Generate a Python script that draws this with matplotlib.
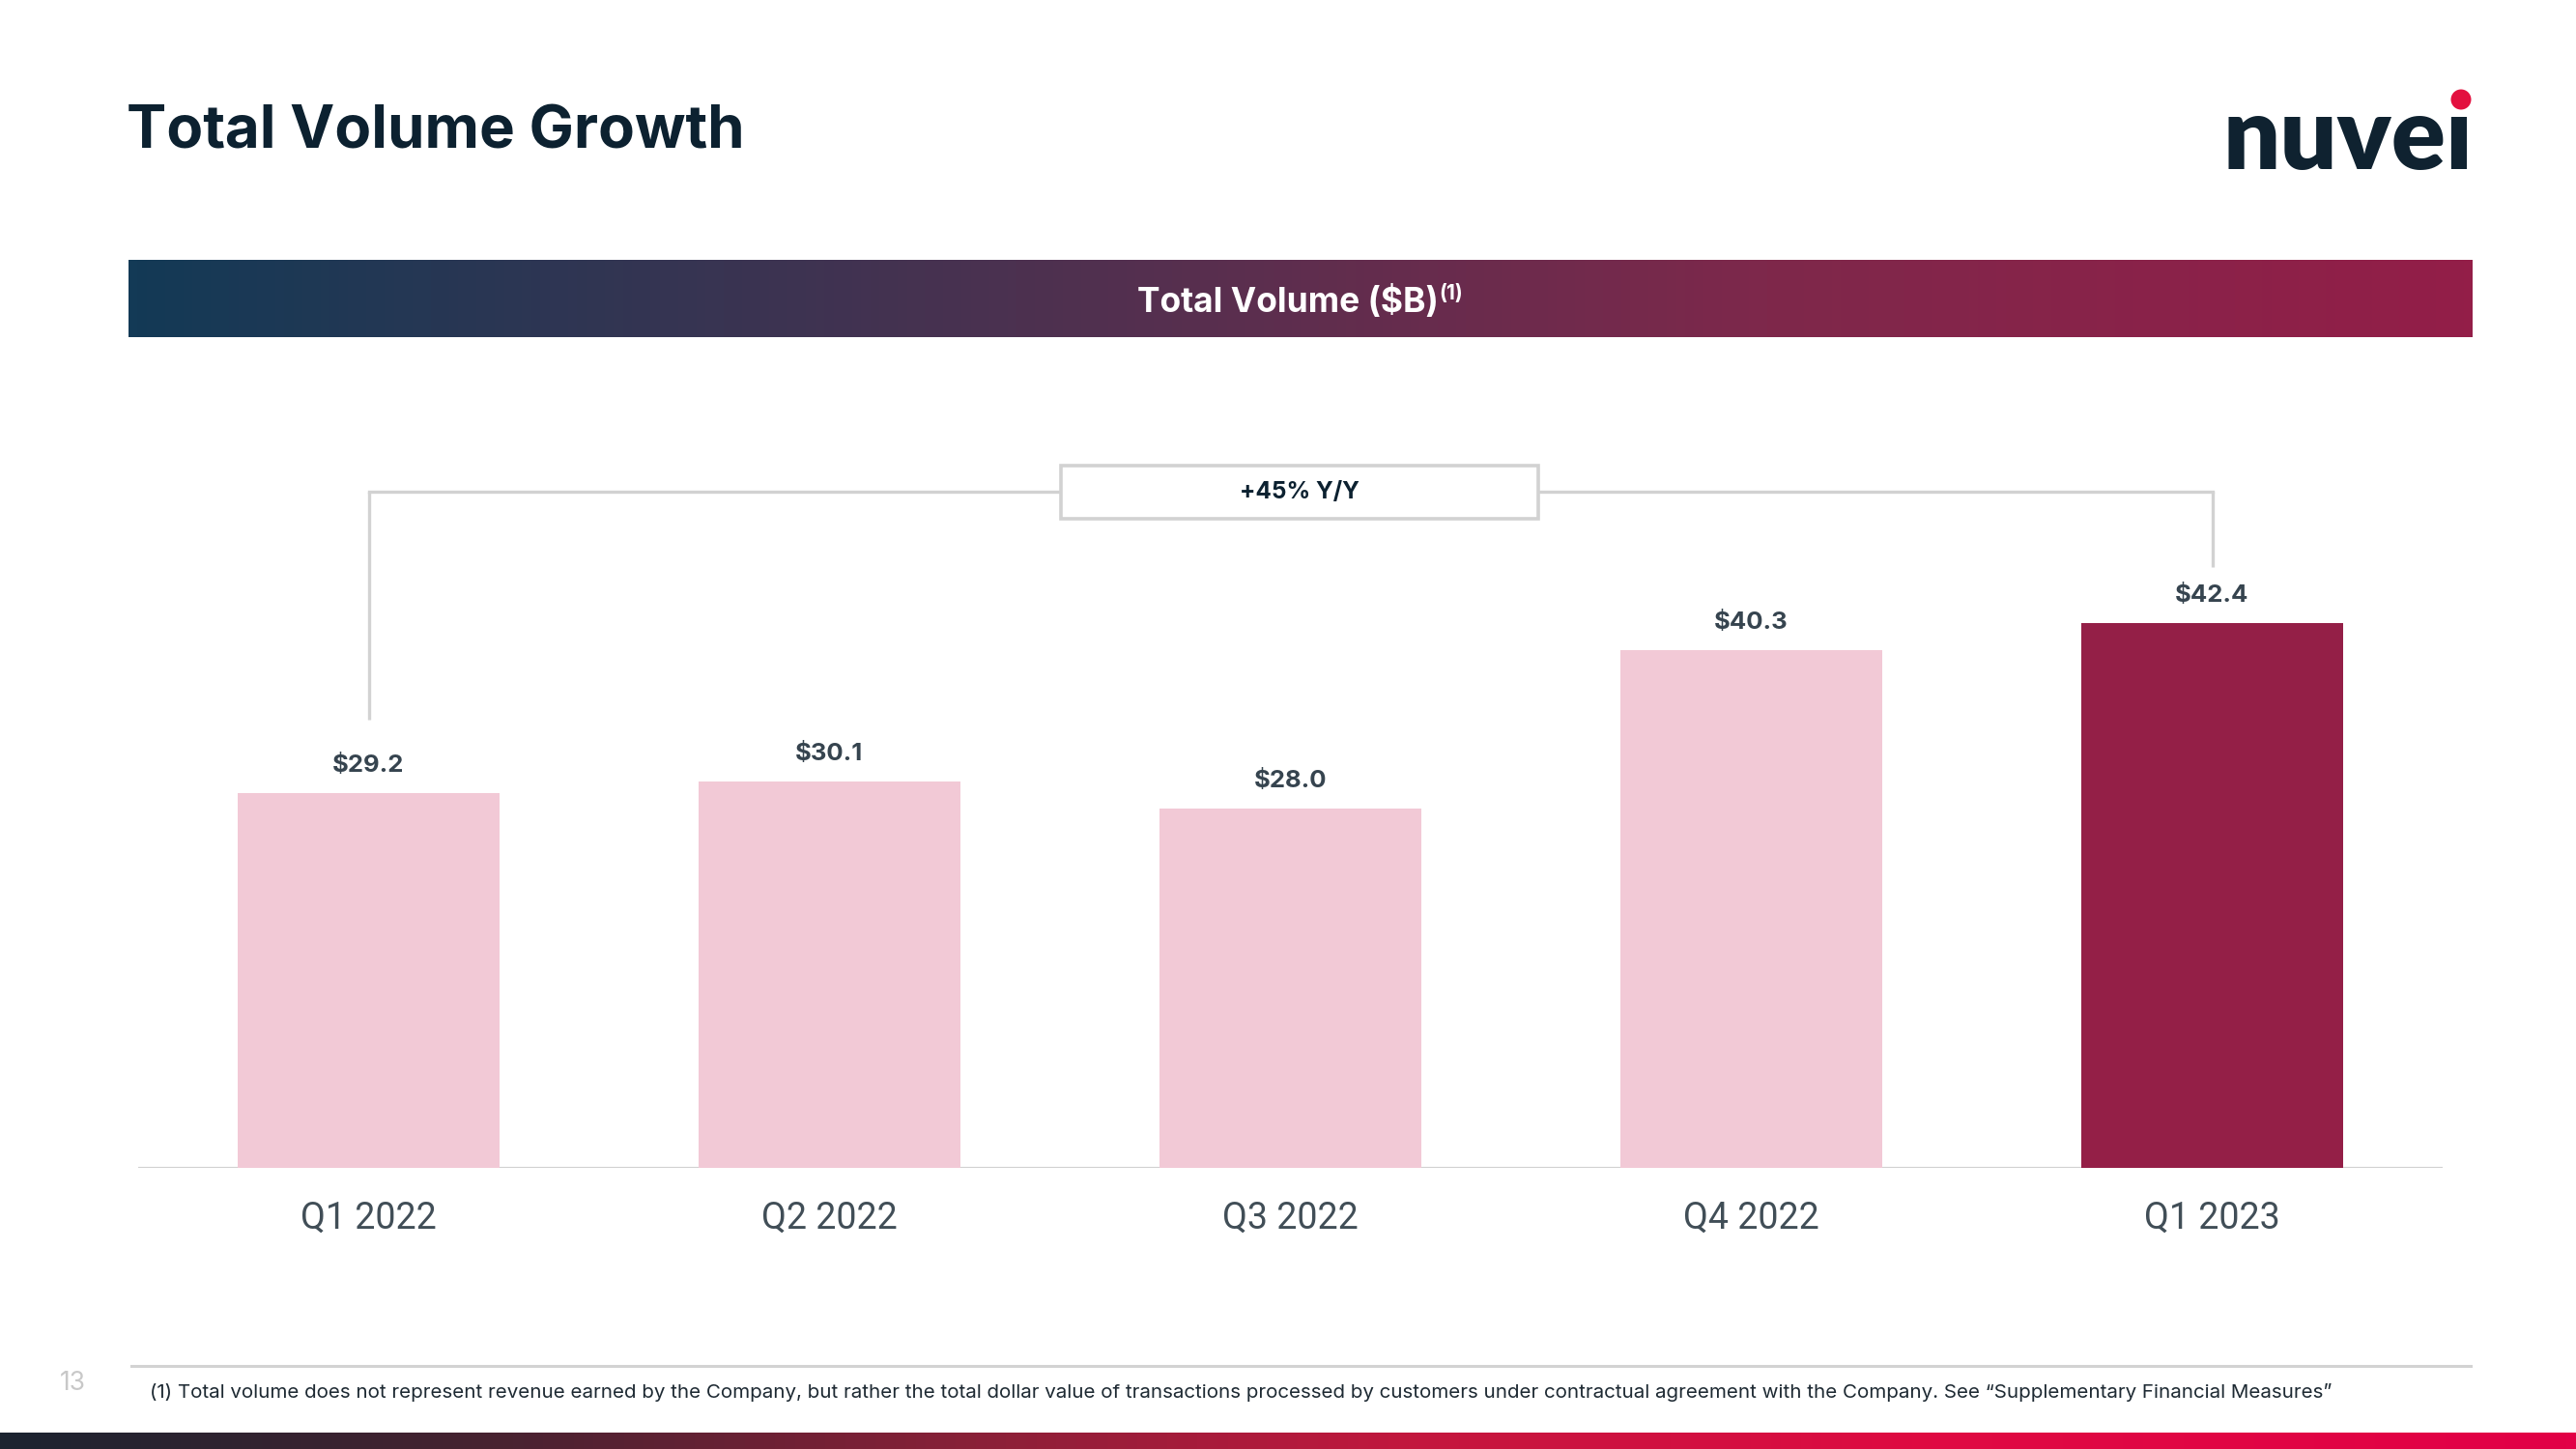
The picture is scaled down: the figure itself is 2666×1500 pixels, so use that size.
import matplotlib
matplotlib.use("Agg")
import matplotlib.pyplot as plt
import numpy as np
from matplotlib.colors import LinearSegmentedColormap
from matplotlib.patches import Rectangle, Circle

# ---- data ----
quarters = ["Q1 2022", "Q2 2022", "Q3 2022", "Q4 2022", "Q1 2023"]
volumes = [29.2, 30.1, 28.0, 40.3, 42.4]
value_labels = ["$29.2", "$30.1", "$28.0", "$40.3", "$42.4"]
growth_label = "+45% Y/Y"
title = "Total Volume Growth"
banner_title = "Total Volume ($B)"
banner_sup = "(1)"
footnote = ("(1) Total volume does not represent revenue earned by the Company, but rather the total dollar "
            "value of transactions processed by customers under contractual agreement with the Company. "
            "See \u201cSupplementary Financial Measures\u201d")
page_number = "13"

# ---- style ----
W, H = 2666, 1500
DPI = 100
PINK = "#f2c9d6"
CRIMSON = "#941f47"
DARK = "#0c2130"
LABEL = "#36444f"
GREY_LINE = "#d2d2d2"
SANS = ["Inter", "Lato", "DejaVu Sans"]
bar_colors = [PINK, PINK, PINK, PINK, CRIMSON]

fig = plt.figure(figsize=(W / DPI, H / DPI), dpi=DPI)
fig.patch.set_facecolor("white")

def fx(px):
    return px / W

def fy(py):
    return 1 - py / H

# Title
fig.text(fx(131), fy(153), title, fontsize=44.5, fontweight="bold", family=SANS,
         color=DARK, ha="left", va="baseline")

# Logo
fig.text(fx(2559), fy(175), "nuve\u0131", fontsize=75, fontweight="heavy",
         family=["Lato", "DejaVu Sans"], color="#0f2230", ha="right", va="baseline")
fig.patches.append(Circle((2547 / DPI, (H - 103) / DPI), 10.5 / DPI, transform=fig.dpi_scale_trans,
                          facecolor="#e3103f", edgecolor="none"))

# Banner with gradient
ban = fig.add_axes([fx(133), fy(349), fx(2559 - 133), (349 - 269) / H])
cmap_ban = LinearSegmentedColormap.from_list(
    "ban", [(0, "#133a56"), (0.38, "#4c3150"), (0.7, "#7e284b"), (1.0, "#931e48")])
ban.imshow(np.linspace(0, 1, 512)[None, :], aspect="auto", cmap=cmap_ban, extent=[0, 1, 0, 1])
ban.set_axis_off()
bt = fig.text(fx(1333), fy(323), banner_title, fontsize=25.5, fontweight="bold",
              family=SANS, color="white", ha="center", va="baseline")
fig.canvas.draw()
bb = bt.get_window_extent()
fig.text(bb.x1 / W, fy(310), banner_sup, fontsize=15, fontweight="bold",
         family=SANS, color="white", ha="left", va="baseline")

# Bar chart axes
ax = fig.add_axes([fx(143), fy(1209), fx(2528 - 143), (1209 - 411) / H])
x = np.arange(len(quarters))
ax.bar(x, volumes, width=0.57, color=bar_colors, zorder=2)
ax.set_xlim(-0.5, 4.5)
ax.set_ylim(0, 60)
for s in ax.spines.values():
    s.set_visible(False)
ax.axhline(0, color=GREY_LINE, lw=1.6, zorder=1)
ax.set_yticks([])
ax.set_xticks(x)
ax.set_xticklabels(quarters, fontsize=27, fontweight="normal", family=["Roboto", "DejaVu Sans"],
                   color="#414e57")
ax.tick_params(axis="x", length=0, pad=24)

for xi, v, lab in zip(x, volumes, value_labels):
    ax.annotate(lab, (xi, v), xytext=(0, 20.5), textcoords="offset points", ha="center", va="center",
                fontsize=18.5, fontweight="bold", family=SANS, color=LABEL)

# Growth bracket
y_bracket = 52.6
ax.plot([x[0], x[0]], [volumes[0] + 5.7, y_bracket], color=GREY_LINE, lw=2.4, solid_capstyle="butt",
        clip_on=False, zorder=1)
ax.plot([x[-1], x[-1]], [volumes[-1] + 4.4, y_bracket], color=GREY_LINE, lw=2.4, solid_capstyle="butt",
        clip_on=False, zorder=1)
ax.plot([x[0], x[-1]], [y_bracket, y_bracket], color=GREY_LINE, lw=2.4, solid_capstyle="projecting",
        clip_on=False, zorder=1)
box_cx, box_w, box_h = 2.02, 1.035, 4.1
ax.add_patch(Rectangle((box_cx - box_w / 2, y_bracket - box_h / 2), box_w, box_h, facecolor="white",
                       edgecolor=GREY_LINE, lw=2.6, zorder=3, clip_on=False))
ax.text(box_cx, y_bracket, growth_label, ha="center", va="center", fontsize=17.5, fontweight="bold",
        family=SANS, color=DARK, zorder=4)

# Footer
fig.add_artist(plt.Line2D([fx(136), fx(2557)], [fy(1414), fy(1414)], color=GREY_LINE, lw=2.2))
fig.text(fx(75), fy(1432), page_number, fontsize=19, family=SANS, color="#c8c8c8",
         ha="center", va="center")
fig.text(fx(155), fy(1447), footnote, fontsize=14.8, family=SANS, color="#1e2a33",
         ha="left", va="baseline")

bot = fig.add_axes([0, 0, 1, 17 / H])
cmap_bot = LinearSegmentedColormap.from_list(
    "bot", [(0, "#1c2430"), (0.2, "#4a2231"), (0.38, "#8a2038"), (0.55, "#c3173e"),
            (0.75, "#df0a42"), (1.0, "#e20046")])
bot.imshow(np.linspace(0, 1, 512)[None, :], aspect="auto", cmap=cmap_bot, extent=[0, 1, 0, 1])
bot.set_axis_off()

fig.savefig("out.png", dpi=DPI, facecolor="white")
